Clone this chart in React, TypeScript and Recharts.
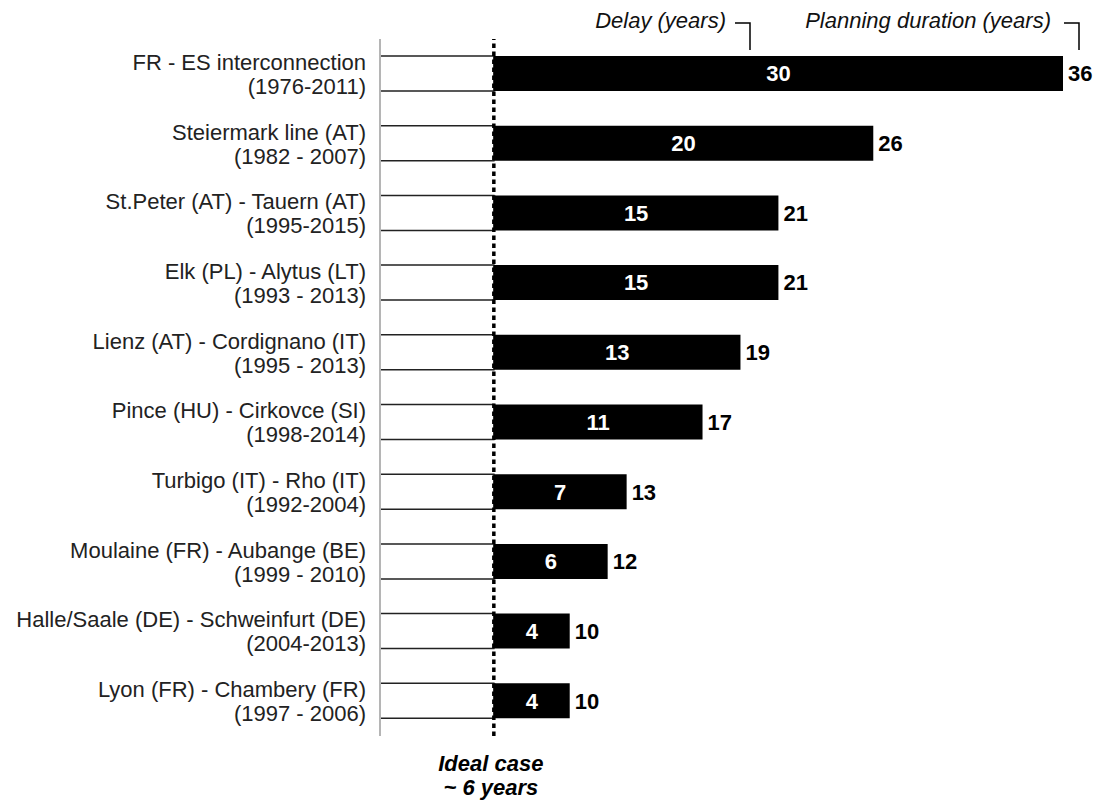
import React from 'react';
import { BarChart, Bar, XAxis, YAxis, LabelList, ReferenceLine } from 'recharts';

const projects = [
  'FR - ES interconnection',
  'Steiermark line (AT)',
  'St.Peter (AT) - Tauern (AT)',
  'Elk (PL) - Alytus (LT)',
  'Lienz (AT) - Cordignano (IT)',
  'Pince (HU) - Cirkovce (SI)',
  'Turbigo (IT) - Rho (IT)',
  'Moulaine (FR) - Aubange (BE)',
  'Halle/Saale (DE) - Schweinfurt (DE)',
  'Lyon (FR) - Chambery (FR)',
];
const periods = [
  '(1976-2011)',
  '(1982 - 2007)',
  '(1995-2015)',
  '(1993 - 2013)',
  '(1995 - 2013)',
  '(1998-2014)',
  '(1992-2004)',
  '(1999 - 2010)',
  '(2004-2013)',
  '(1997 - 2006)',
];
const IDEAL_YEARS = 6;
const delays = [30, 20, 15, 15, 13, 11, 7, 6, 4, 4];
const totals = [36, 26, 21, 21, 19, 17, 13, 12, 10, 10];

const data = projects.map((name, i) => ({
  name,
  period: periods[i],
  ideal: IDEAL_YEARS,
  delay: delays[i],
  total: totals[i],
}));

const FONT = '"Liberation Sans", Arial, sans-serif';
const W = 1099;
const H = 802;

// two-line category label: project name, then its years
const ProjectTick = (props: any) => {
  const { y, payload, index } = props;
  return (
    <text x={366} y={y} textAnchor="end" fontSize={22} fill="#222" fontFamily={FONT}>
      <tspan x={366} dy={-4}>{payload.value}</tspan>
      <tspan x={366} dy={24}>{periods[index]}</tspan>
    </text>
  );
};

const IdealLabel = (props: any) => {
  const { viewBox } = props;
  const cx = viewBox.x - 3;
  const bottom = viewBox.y + viewBox.height;
  return (
    <text x={cx} textAnchor="middle" fontSize={22} fontWeight="bold" fontStyle="italic" fill="#000">
      <tspan x={cx} y={bottom + 35}>Ideal case</tspan>
      <tspan x={cx} y={bottom + 59}>~ 6 years</tspan>
    </text>
  );
};

const PlanningDelayChart: React.FC = () => {
  return (
    <div style={{ position: 'absolute', left: 0, top: 0, width: W, height: H, fontFamily: FONT }}>
      <BarChart
        width={W}
        height={H}
        data={data}
        layout="vertical"
        margin={{ top: 39, right: 36, bottom: 66, left: 0 }}
        barSize={35}
      >
        <XAxis type="number" domain={[0, 36]} hide />
        <YAxis
          type="category"
          dataKey="name"
          width={380}
          axisLine={{ stroke: '#b5b5b5', strokeWidth: 2 }}
          tickLine={false}
          tick={<ProjectTick />}
          interval={0}
        />
        <Bar dataKey="ideal" stackId="a" fill="#ffffff" stroke="#222" strokeWidth={1.5} isAnimationActive={false} />
        <Bar dataKey="delay" stackId="a" fill="#000000" isAnimationActive={false}>
          <LabelList dataKey="delay" position="center" fill="#ffffff" fontSize={22} fontWeight="bold" />
          <LabelList dataKey="total" position="right" offset={5} fill="#000000" fontSize={22} fontWeight="bold" />
        </Bar>
        <ReferenceLine
          x={IDEAL_YEARS}
          stroke="#000"
          strokeWidth={3.5}
          strokeDasharray="4.5 3.5"
          label={<IdealLabel />}
        />
      </BarChart>
      <svg width={W} height={60} style={{ position: 'absolute', left: 0, top: 0 }}>
        <g fontSize={22} fontStyle="italic" fill="#111" fontFamily={FONT}>
          <text x={726} y={28} textAnchor="end">Delay (years)</text>
          <text x={1051} y={28} textAnchor="end">Planning duration (years)</text>
        </g>
        <g stroke="#000" strokeWidth={1.5} fill="none">
          <polyline points="735,23 750,23 750,50" />
          <polyline points="1064,23 1079,23 1079,50" />
        </g>
      </svg>
    </div>
  );
};

export default function App() {
  return <PlanningDelayChart />;
}
